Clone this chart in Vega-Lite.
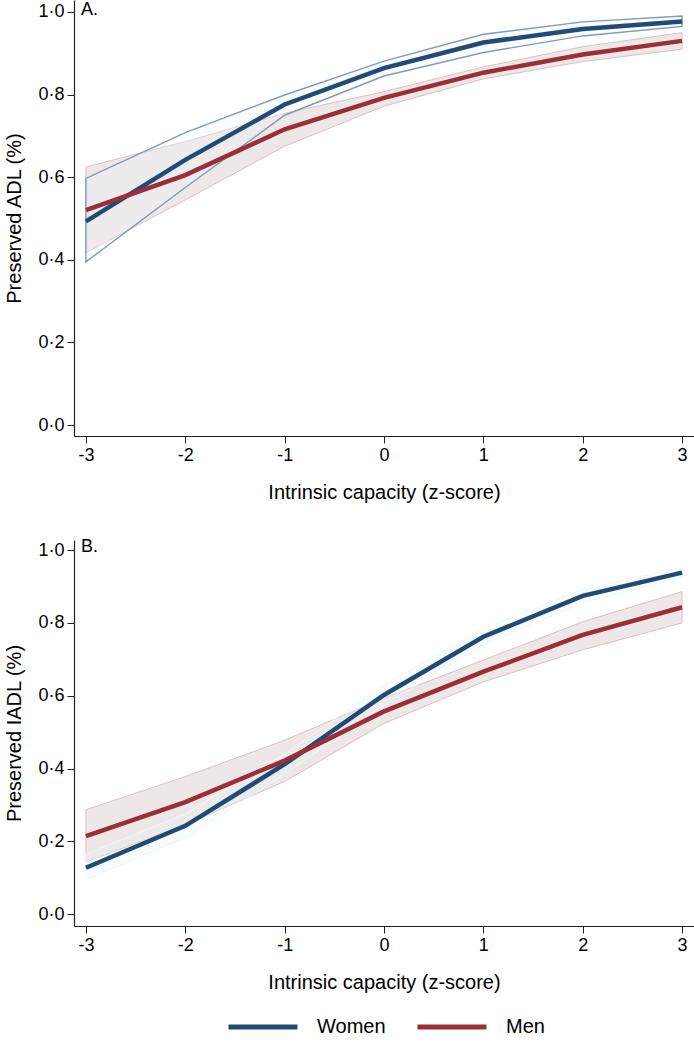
{
  "$schema": "https://vega.github.io/schema/vega-lite/v6.json",
  "padding": {"left": 4, "top": 0, "right": 0, "bottom": 0},
  "bounds": "flush",
  "spacing": 104,
  "datasets": {
    "adl": [
      {"z": -3, "sex": "Women", "est": 0.493, "lo": 0.395, "hi": 0.597},
      {"z": -2, "sex": "Women", "est": 0.642, "lo": 0.575, "hi": 0.708},
      {"z": -1, "sex": "Women", "est": 0.776, "lo": 0.75, "hi": 0.799},
      {"z": 0, "sex": "Women", "est": 0.864, "lo": 0.845, "hi": 0.881},
      {"z": 1, "sex": "Women", "est": 0.926, "lo": 0.902, "hi": 0.946},
      {"z": 2, "sex": "Women", "est": 0.959, "lo": 0.942, "hi": 0.976},
      {"z": 3, "sex": "Women", "est": 0.977, "lo": 0.965, "hi": 0.99},
      {"z": -3, "sex": "Men", "est": 0.52, "lo": 0.417, "hi": 0.625},
      {"z": -2, "sex": "Men", "est": 0.605, "lo": 0.545, "hi": 0.686},
      {"z": -1, "sex": "Men", "est": 0.716, "lo": 0.675, "hi": 0.755},
      {"z": 0, "sex": "Men", "est": 0.792, "lo": 0.772, "hi": 0.807},
      {"z": 1, "sex": "Men", "est": 0.853, "lo": 0.838, "hi": 0.867},
      {"z": 2, "sex": "Men", "est": 0.897, "lo": 0.88, "hi": 0.916},
      {"z": 3, "sex": "Men", "est": 0.93, "lo": 0.91, "hi": 0.95}
    ],
    "iadl": [
      {"z": -3, "sex": "Women", "est": 0.128, "lo": 0.095, "hi": 0.165},
      {"z": -2, "sex": "Women", "est": 0.243, "lo": 0.21, "hi": 0.275},
      {"z": -1, "sex": "Women", "est": 0.412, "lo": 0.385, "hi": 0.44},
      {"z": 0, "sex": "Women", "est": 0.602, "lo": 0.575, "hi": 0.63},
      {"z": 1, "sex": "Women", "est": 0.762, "lo": 0.74, "hi": 0.785},
      {"z": 2, "sex": "Women", "est": 0.874, "lo": 0.855, "hi": 0.893},
      {"z": 3, "sex": "Women", "est": 0.938, "lo": 0.925, "hi": 0.952},
      {"z": -3, "sex": "Men", "est": 0.215, "lo": 0.144, "hi": 0.287},
      {"z": -2, "sex": "Men", "est": 0.308, "lo": 0.246, "hi": 0.378},
      {"z": -1, "sex": "Men", "est": 0.422, "lo": 0.365, "hi": 0.478},
      {"z": 0, "sex": "Men", "est": 0.557, "lo": 0.524, "hi": 0.593},
      {"z": 1, "sex": "Men", "est": 0.666, "lo": 0.638, "hi": 0.698},
      {"z": 2, "sex": "Men", "est": 0.767, "lo": 0.726, "hi": 0.803},
      {"z": 3, "sex": "Men", "est": 0.843, "lo": 0.8, "hi": 0.886}
    ],
    "panels": [
      {"panel": "A.", "z": -3.12, "top": 1.005},
      {"panel": "B.", "z": -3.12, "top": 1.008}
    ]
  },
  "vconcat": [
    {
      "width": 620,
      "height": 436,
      "data": {"name": "adl"},
      "encoding": {
        "x": {
          "field": "z",
          "type": "quantitative",
          "title": "Intrinsic capacity (z-score)",
          "scale": {"domain": [-3.12, 3.12], "nice": false, "zero": false},
          "axis": {"values": [-3, -2, -1, 0, 1, 2, 3], "labelExpr": "datum.value + ''"}
        }
      },
      "layer": [
        {
          "transform": [{"filter": "datum.sex == 'Men'"}],
          "mark": {"type": "area", "fill": "#ece4e4", "fillOpacity": 0.9, "stroke": "#ddc0c1", "strokeWidth": 1},
          "encoding": {
            "y": {
              "field": "lo",
              "type": "quantitative",
              "title": "Preserved ADL (%)",
              "scale": {"domain": [-0.0266, 1.029], "nice": false, "zero": false},
              "axis": {
                "values": [0, 0.2, 0.4, 0.6, 0.8, 1],
                "labelExpr": "replace(format(datum.value, '.1f'), '.', '·')"
              }
            },
            "y2": {"field": "hi"}
          }
        },
        {
          "transform": [{"filter": "datum.sex == 'Women'"}],
          "mark": {"type": "area", "fill": "#eef6fb", "fillOpacity": 0.3, "stroke": "#7f9cb6", "strokeWidth": 1.4},
          "encoding": {
            "y": {"field": "lo", "type": "quantitative"},
            "y2": {"field": "hi"}
          }
        },
        {
          "mark": {"type": "line", "strokeWidth": 4.5},
          "encoding": {
            "y": {"field": "est", "type": "quantitative"},
            "color": {
              "field": "sex",
              "type": "nominal",
              "sort": ["Women", "Men"],
              "scale": {"domain": ["Women", "Men"], "range": ["#1f4b75", "#9a2f3a"]},
              "legend": {
                "title": null,
                "orient": "none",
                "direction": "horizontal",
                "legendX": 152,
                "legendY": 990,
                "symbolType": "stroke",
                "symbolSize": 4761,
                "symbolStrokeWidth": 5,
                "symbolOpacity": 1,
                "labelOffset": 17,
                "columnPadding": 21,
                "labelFontSize": 20,
                "labelColor": "#000"
              }
            }
          }
        },
        {
          "data": {"name": "panels"},
          "transform": [{"filter": "datum.panel == 'A.'"}],
          "mark": {"type": "text", "align": "left", "baseline": "middle", "dx": 7, "fontSize": 18, "fill": "#000"},
          "encoding": {
            "x": {"field": "z", "type": "quantitative"},
            "y": {"field": "top", "type": "quantitative"},
            "text": {"field": "panel", "type": "nominal"}
          }
        }
      ]
    },
    {
      "width": 620,
      "height": 386,
      "data": {"name": "iadl"},
      "encoding": {
        "x": {
          "field": "z",
          "type": "quantitative",
          "title": "Intrinsic capacity (z-score)",
          "scale": {"domain": [-3.12, 3.12], "nice": false, "zero": false},
          "axis": {"values": [-3, -2, -1, 0, 1, 2, 3], "labelExpr": "datum.value + ''"}
        }
      },
      "layer": [
        {
          "transform": [{"filter": "datum.sex == 'Men'"}],
          "mark": {"type": "area", "fill": "#ece4e4", "fillOpacity": 0.9, "stroke": "#ddc0c1", "strokeWidth": 1},
          "encoding": {
            "y": {
              "field": "lo",
              "type": "quantitative",
              "title": "Preserved IADL (%)",
              "scale": {"domain": [-0.032, 1.0275], "nice": false, "zero": false},
              "axis": {
                "values": [0, 0.2, 0.4, 0.6, 0.8, 1],
                "labelExpr": "replace(format(datum.value, '.1f'), '.', '·')"
              }
            },
            "y2": {"field": "hi"}
          }
        },
        {
          "transform": [{"filter": "datum.sex == 'Women'"}],
          "mark": {"type": "area", "fill": "#e6f5fa", "fillOpacity": 0.3, "stroke": "#eef8fc", "strokeWidth": 1},
          "encoding": {
            "y": {"field": "lo", "type": "quantitative"},
            "y2": {"field": "hi"}
          }
        },
        {
          "mark": {"type": "line", "strokeWidth": 4.5},
          "encoding": {
            "y": {"field": "est", "type": "quantitative"},
            "color": {"field": "sex", "type": "nominal", "sort": ["Women", "Men"]}
          }
        },
        {
          "data": {"name": "panels"},
          "transform": [{"filter": "datum.panel == 'B.'"}],
          "mark": {"type": "text", "align": "left", "baseline": "middle", "dx": 7, "fontSize": 18, "fill": "#000"},
          "encoding": {
            "x": {"field": "z", "type": "quantitative"},
            "y": {"field": "top", "type": "quantitative"},
            "text": {"field": "panel", "type": "nominal"}
          }
        }
      ]
    }
  ],
  "config": {
    "font": "Liberation Sans",
    "view": {"stroke": null},
    "axis": {
      "grid": false,
      "domainColor": "#222",
      "domainWidth": 1.2,
      "tickColor": "#222",
      "tickSize": 7,
      "labelColor": "#000",
      "labelFontSize": 18,
      "labelPadding": 3,
      "titleColor": "#000",
      "titleFontSize": 20,
      "titleFontWeight": "normal"
    },
    "axisX": {"titlePadding": 18},
    "axisY": {"titleAngle": 270, "titleBaseline": "top", "titleX": -70}
  }
}
